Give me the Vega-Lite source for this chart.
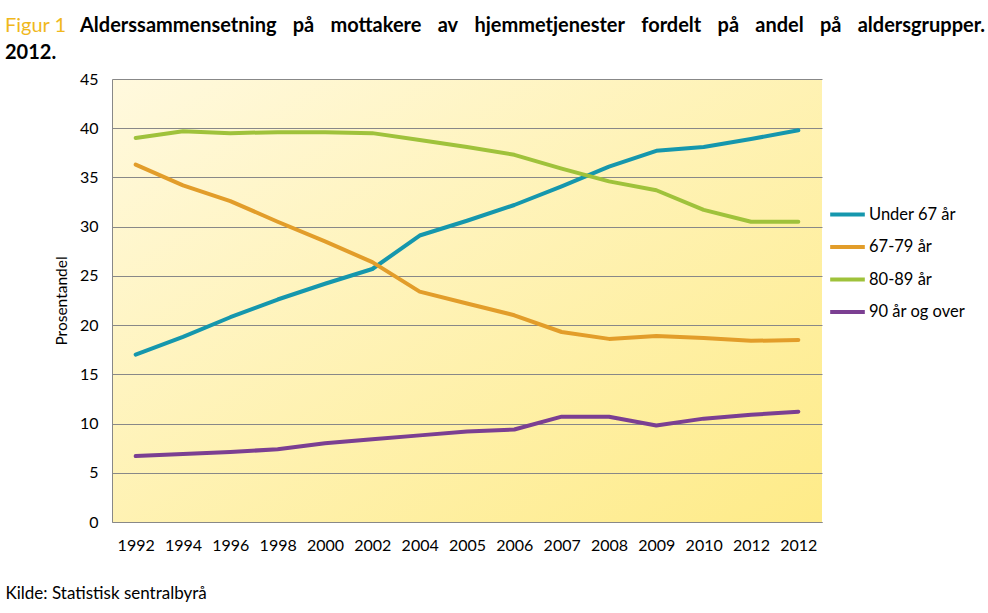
{
  "$schema": "https://vega.github.io/schema/vega-lite/v6.json",
  "width": 710,
  "height": 443,
  "autosize": {"type": "none"},
  "padding": {"left": 112, "top": 79, "right": 166, "bottom": 91},
  "background": "white",
  "config": {
    "font": "Lato",
    "view": {
      "stroke": null,
      "fill": {
        "gradient": "linear",
        "x1": 0, "y1": 0, "x2": 1, "y2": 1,
        "stops": [
          {"offset": 0, "color": "#FFF9DE"},
          {"offset": 1, "color": "#FEEB88"}
        ]
      }
    }
  },
  "title": {
    "text": "Figur 1",
    "subtitle": ["\u200b\u2003\u2003\u2003\u2003\u2002\u2009\u2009Alderssammensetning\u2002\u2009\u2009\u200apå\u2002\u2009\u2009\u200amottakere\u2002\u2009\u2009\u200aav\u2002\u2009\u2009\u200ahjemmetjenester\u2002\u2009\u2009\u200afordelt\u2002\u2009\u2009\u200apå\u2002\u2009\u2009\u200aandel\u2002\u2009\u2009\u200apå\u2002\u2009\u2009\u200aaldersgrupper.", "2012."],
    "anchor": "start",
    "frame": "group",
    "dx": -107,
    "offset": 8,
    "font": "Lato",
    "fontSize": 20,
    "fontWeight": "normal",
    "color": "#F0B81C",
    "lineHeight": 20,
    "subtitleFont": "Lato",
    "subtitleFontSize": 20,
    "subtitleFontWeight": "bold",
    "subtitleColor": "#000000",
    "subtitleLineHeight": 27,
    "subtitlePadding": -20
  },
  "data": {
    "values": [
      {"year": "1992", "group": "Under 67 år", "pct": 17.0},
      {"year": "1994", "group": "Under 67 år", "pct": 18.8},
      {"year": "1996", "group": "Under 67 år", "pct": 20.8},
      {"year": "1998", "group": "Under 67 år", "pct": 22.6},
      {"year": "2000", "group": "Under 67 år", "pct": 24.2},
      {"year": "2002", "group": "Under 67 år", "pct": 25.7},
      {"year": "2004", "group": "Under 67 år", "pct": 29.1},
      {"year": "2005", "group": "Under 67 år", "pct": 30.6},
      {"year": "2006", "group": "Under 67 år", "pct": 32.2},
      {"year": "2007", "group": "Under 67 år", "pct": 34.1},
      {"year": "2008", "group": "Under 67 år", "pct": 36.1},
      {"year": "2009", "group": "Under 67 år", "pct": 37.7},
      {"year": "2010", "group": "Under 67 år", "pct": 38.1},
      {"year": "2012", "group": "Under 67 år", "pct": 38.9},
      {"year": "2012b", "group": "Under 67 år", "pct": 39.8},
      {"year": "1992", "group": "67-79 år", "pct": 36.3},
      {"year": "1994", "group": "67-79 år", "pct": 34.2},
      {"year": "1996", "group": "67-79 år", "pct": 32.6},
      {"year": "1998", "group": "67-79 år", "pct": 30.5},
      {"year": "2000", "group": "67-79 år", "pct": 28.5},
      {"year": "2002", "group": "67-79 år", "pct": 26.4},
      {"year": "2004", "group": "67-79 år", "pct": 23.4},
      {"year": "2005", "group": "67-79 år", "pct": 22.2},
      {"year": "2006", "group": "67-79 år", "pct": 21.0},
      {"year": "2007", "group": "67-79 år", "pct": 19.3},
      {"year": "2008", "group": "67-79 år", "pct": 18.6},
      {"year": "2009", "group": "67-79 år", "pct": 18.9},
      {"year": "2010", "group": "67-79 år", "pct": 18.7},
      {"year": "2012", "group": "67-79 år", "pct": 18.4},
      {"year": "2012b", "group": "67-79 år", "pct": 18.5},
      {"year": "1992", "group": "80-89 år", "pct": 39.0},
      {"year": "1994", "group": "80-89 år", "pct": 39.7},
      {"year": "1996", "group": "80-89 år", "pct": 39.5},
      {"year": "1998", "group": "80-89 år", "pct": 39.6},
      {"year": "2000", "group": "80-89 år", "pct": 39.6},
      {"year": "2002", "group": "80-89 år", "pct": 39.5},
      {"year": "2004", "group": "80-89 år", "pct": 38.8},
      {"year": "2005", "group": "80-89 år", "pct": 38.1},
      {"year": "2006", "group": "80-89 år", "pct": 37.3},
      {"year": "2007", "group": "80-89 år", "pct": 35.9},
      {"year": "2008", "group": "80-89 år", "pct": 34.6},
      {"year": "2009", "group": "80-89 år", "pct": 33.7},
      {"year": "2010", "group": "80-89 år", "pct": 31.7},
      {"year": "2012", "group": "80-89 år", "pct": 30.5},
      {"year": "2012b", "group": "80-89 år", "pct": 30.5},
      {"year": "1992", "group": "90 år og over", "pct": 6.7},
      {"year": "1994", "group": "90 år og over", "pct": 6.9},
      {"year": "1996", "group": "90 år og over", "pct": 7.1},
      {"year": "1998", "group": "90 år og over", "pct": 7.4},
      {"year": "2000", "group": "90 år og over", "pct": 8.0},
      {"year": "2002", "group": "90 år og over", "pct": 8.4},
      {"year": "2004", "group": "90 år og over", "pct": 8.8},
      {"year": "2005", "group": "90 år og over", "pct": 9.2},
      {"year": "2006", "group": "90 år og over", "pct": 9.4},
      {"year": "2007", "group": "90 år og over", "pct": 10.7},
      {"year": "2008", "group": "90 år og over", "pct": 10.7},
      {"year": "2009", "group": "90 år og over", "pct": 9.8},
      {"year": "2010", "group": "90 år og over", "pct": 10.5},
      {"year": "2012", "group": "90 år og over", "pct": 10.9},
      {"year": "2012b", "group": "90 år og over", "pct": 11.2}
    ]
  },
  "mark": {"type": "line", "strokeWidth": 4, "strokeCap": "round", "strokeJoin": "round"},
  "encoding": {
    "x": {
      "field": "year",
      "type": "ordinal",
      "scale": {
        "domain": ["1992", "1994", "1996", "1998", "2000", "2002", "2004", "2005", "2006", "2007", "2008", "2009", "2010", "2012", "2012b"],
        "paddingInner": 0,
        "paddingOuter": 0
      },
      "axis": {
        "title": "Kilde: Statistisk sentralbyrå",
        "titleX": -107,
        "titleY": 71,
        "titleAlign": "left",
        "titleAnchor": "start",
        "titleBaseline": "middle",
        "titleFont": "Lato",
        "titleFontSize": 17,
        "titleFontWeight": "normal",
        "titleColor": "#000000",
        "labelExpr": "substring(datum.label, 0, 4)",
        "labelAngle": 0,
        "labelFont": "Lato",
        "labelFontSize": 16,
        "labelColor": "#000000",
        "labelPadding": 15,
        "ticks": false,
        "domainColor": "#888888",
        "domainWidth": 1,
        "grid": false
      }
    },
    "y": {
      "field": "pct",
      "type": "quantitative",
      "scale": {"domain": [0, 45]},
      "axis": {
        "title": "Prosentandel",
        "titleFont": "Lato",
        "titleFontSize": 15.5,
        "titleFontWeight": "normal",
        "titleColor": "#000000",
        "titlePadding": 10,
        "values": [0, 5, 10, 15, 20, 25, 30, 35, 40, 45],
        "labelFont": "Lato",
        "labelFontSize": 16,
        "labelColor": "#000000",
        "labelPadding": 14,
        "ticks": false,
        "domainColor": "#888888",
        "grid": true,
        "gridColor": "#888888",
        "gridWidth": 1
      }
    },
    "color": {
      "field": "group",
      "type": "nominal",
      "scale": {
        "domain": ["Under 67 år", "67-79 år", "80-89 år", "90 år og over"],
        "range": ["#1597AD", "#E29D2A", "#9FC23B", "#7B3F92"]
      },
      "legend": {
        "title": null,
        "orient": "none",
        "legendX": 716,
        "legendY": 116,
        "symbolType": "stroke",
        "symbolStrokeWidth": 4,
        "symbolSize": 1200,
        "labelFont": "Lato",
        "labelFontSize": 16.5,
        "labelColor": "#000000",
        "labelOffset": 2,
        "rowPadding": 4.5
      }
    }
  }
}
